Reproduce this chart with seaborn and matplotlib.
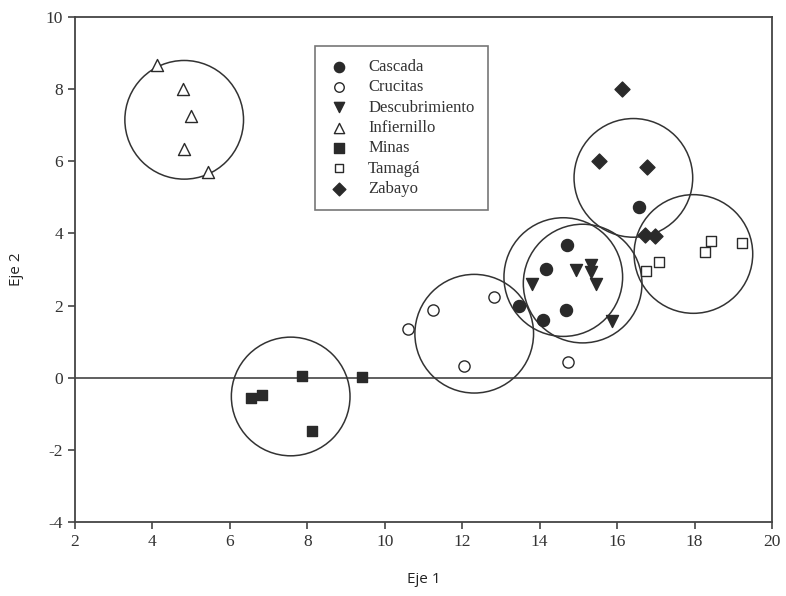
import pandas as pd
import matplotlib
matplotlib.use("Agg")
import matplotlib.pyplot as plt
import seaborn as sns

# ---- data ----
cascada_x = [16.56, 14.70, 14.16, 13.47, 14.68, 14.08]
cascada_y = [4.72, 3.68, 3.01, 2.00, 1.89, 1.60]
crucitas_x = [10.61, 11.24, 12.83, 12.05, 14.72]
crucitas_y = [1.34, 1.89, 2.23, 0.33, 0.43]
descub_x = [13.79, 14.94, 15.33, 15.33, 15.46, 15.88]
descub_y = [2.60, 2.98, 3.12, 2.94, 2.60, 1.58]
infiernillo_x = [4.11, 4.80, 4.99, 4.82, 5.44]
infiernillo_y = [8.66, 8.00, 7.26, 6.34, 5.69]
minas_x = [7.86, 9.40, 6.54, 6.83, 8.13]
minas_y = [0.06, 0.03, -0.55, -0.48, -1.48]
tamaga_x = [16.74, 17.09, 18.27, 18.43, 19.23]
tamaga_y = [2.97, 3.22, 3.49, 3.79, 3.74]
zabayo_x = [16.13, 15.54, 16.78, 16.73, 16.99]
zabayo_y = [8.00, 6.00, 5.83, 3.97, 3.94]

sites = ["Cascada", "Crucitas", "Descubrimiento", "Infiernillo", "Minas", "Tamagá", "Zabayo"]
centroid_x = [14.61, 12.31, 15.11, 4.82, 7.57, 17.97, 16.42]
centroid_y = [2.79, 1.22, 2.61, 7.15, -0.52, 3.43, 5.54]

x_ticks = [2, 4, 6, 8, 10, 12, 14, 16, 18, 20]
y_ticks = [-4, -2, 0, 2, 4, 6, 8, 10]

points = pd.concat([
    pd.DataFrame({"x": cascada_x, "y": cascada_y, "site": "Cascada"}),
    pd.DataFrame({"x": crucitas_x, "y": crucitas_y, "site": "Crucitas"}),
    pd.DataFrame({"x": descub_x, "y": descub_y, "site": "Descubrimiento"}),
    pd.DataFrame({"x": infiernillo_x, "y": infiernillo_y, "site": "Infiernillo"}),
    pd.DataFrame({"x": minas_x, "y": minas_y, "site": "Minas"}),
    pd.DataFrame({"x": tamaga_x, "y": tamaga_y, "site": "Tamagá"}),
    pd.DataFrame({"x": zabayo_x, "y": zabayo_y, "site": "Zabayo"}),
], ignore_index=True)
centroids = pd.DataFrame({"x": centroid_x, "y": centroid_y, "site": sites})

DARK = "#2a2a2a"
# marker, filled?, size
styles = {
    "Cascada": ("o", True, 75),
    "Crucitas": ("o", False, 65),
    "Descubrimiento": ("v", True, 75),
    "Infiernillo": ("^", False, 75),
    "Minas": ("s", True, 62),
    "Tamagá": ("s", False, 58),
    "Zabayo": ("D", True, 58),
}

sns.set_style("white")
plt.rcParams["axes.unicode_minus"] = False

fig = plt.figure(figsize=(7.86, 5.96), dpi=100)
ax = fig.add_axes([75 / 786, 1 - 522 / 596, 697 / 786, 505 / 596])

ax.axhline(0, color="#444444", linewidth=1.2, zorder=1)

# group circles (screen-space circles around each centroid)
sns.scatterplot(
    data=centroids, x="x", y="y", ax=ax, marker="o", s=7300,
    facecolor="none", edgecolor="#333333", linewidth=1.1, zorder=2, legend=False,
)

for site in sites:
    marker, filled, size = styles[site]
    sub = points[points["site"] == site]
    sns.scatterplot(
        data=sub, x="x", y="y", ax=ax, marker=marker, s=size,
        color=DARK if filled else "white", edgecolor=DARK, linewidth=1.0,
        label=site, zorder=3,
    )

ax.set_xlim(2, 20)
ax.set_ylim(-4, 10)
ax.set_xticks(x_ticks)
ax.set_yticks(y_ticks)
ax.tick_params(axis="both", direction="out", length=5, width=1.2, color="#444444",
               labelsize=12.5, labelcolor="#333333", top=False, right=False,
               bottom=True, left=True)
for lab in ax.get_xticklabels() + ax.get_yticklabels():
    lab.set_family("Liberation Serif")
for sp in ax.spines.values():
    sp.set_color("#444444")
    sp.set_linewidth(1.3)

ax.set_xlabel("Eje 1", family="Open Sans", fontsize=11, color="#222222", labelpad=16)
ax.set_ylabel("Eje 2", family="Open Sans", fontsize=11, color="#222222", labelpad=16)

leg = ax.legend(loc="upper left", bbox_to_anchor=(0.344, 0.943), borderaxespad=0,
                frameon=True, fancybox=False, prop={"family": "Liberation Serif", "size": 12},
                handletextpad=1.1, labelspacing=0.26, borderpad=0.8, handlelength=1.3,
                markerscale=0.85)
leg.get_frame().set_edgecolor("#555555")
leg.get_frame().set_linewidth(1.2)
for t in leg.get_texts():
    t.set_color("#333333")

fig.savefig("out.png", dpi=100)
